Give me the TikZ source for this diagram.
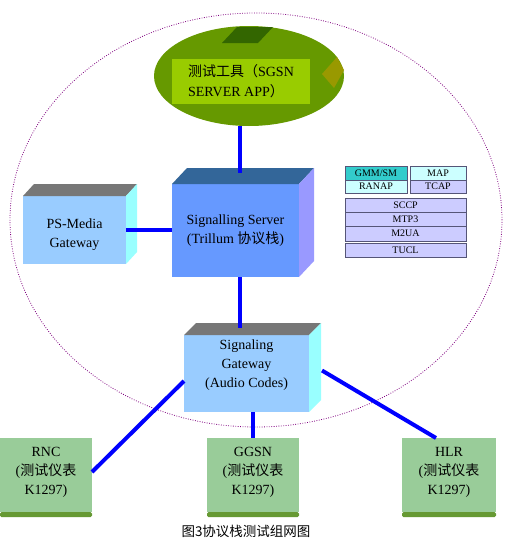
\documentclass[tikz,border=0pt]{standalone}
\usepackage{fontspec}
\setmainfont{Liberation Serif}
\newfontfamily\cjk{Noto Sans CJK SC}
\usetikzlibrary{calc,positioning,shapes.geometric}

\definecolor{linkblue}{HTML}{0000FF}
\definecolor{ringpurple}{HTML}{800080}
\definecolor{toolgreen}{HTML}{669900}
\definecolor{toollight}{HTML}{99CC00}
\definecolor{tooldark}{HTML}{336600}
\definecolor{toololive}{HTML}{999900}
\definecolor{srvfront}{HTML}{6699FF}
\definecolor{srvtop}{HTML}{336699}
\definecolor{srvside}{HTML}{9999FF}
\definecolor{gwfront}{HTML}{99CCFF}
\definecolor{gwtop}{HTML}{777777}
\definecolor{gwside}{HTML}{99FFFF}
\definecolor{kitfill}{HTML}{99CC99}
\definecolor{kitstrip}{HTML}{669933}
\definecolor{stacklav}{HTML}{CCCCFF}
\definecolor{stackcyan}{HTML}{33CCCC}
\definecolor{stackpale}{HTML}{CCFFFF}
\definecolor{stackline}{HTML}{555577}

\tikzset{
  frontface/.style={anchor=north west,inner sep=0pt,outer sep=0pt},
  link/.style={draw=linkblue,line width=4pt},
  lbl/.style={align=center,font=\fontsize{14}{19}\selectfont},
  layerbox/.style={frontface,draw=stackline,line width=0.6pt,fill=stacklav,font=\fontsize{10}{10}\selectfont},
  kitbox/.style={frontface,fill=kitfill,minimum height=74pt}
}

\newcommand\boxfaces[5]{%
  \fill[#4] (#1.north west) -- ++(#2,#3) -- ($(#1.north east)+(#2,#3)$) -- (#1.north east) -- cycle;
  \fill[#5] (#1.north east) -- ++(#2,#3) -- ($(#1.south east)+(#2,#3)$) -- (#1.south east) -- cycle;
}

\begin{document}
\begin{tikzpicture}[x=1pt,y=-1pt]
  \useasboundingbox (0,0) rectangle (508,544);
  \fill[white] (0,0) rectangle (508,544);

  \draw[ringpurple,line width=0.8pt,dash pattern=on 0.8pt off 1.6pt] (256,220) ellipse [x radius=246pt,y radius=207pt];

  \coordinate (spine) at (240,0);

  \node[ellipse,fill=toolgreen,minimum width=190pt,minimum height=100pt,inner sep=0pt] (tool) at (249,76) {};
  \fill[tooldark] (222,43) -- (258,43) -- (273,27) -- (237,27) -- cycle;
  \fill[toololive] (322,74) -- (337,57) -- (344,70) -- (334,88) -- cycle;
  \node[frontface,fill=toollight,minimum width=138pt,minimum height=45pt,align=left,font=\fontsize{14}{20}\selectfont] (toolname) at (172,59)
    {{\cjk 测试工具（}SGSN\\SERVER APP{\cjk ）}};

  \node[frontface,fill=gwfront,minimum width=103pt,minimum height=68pt,
    label={[lbl,yshift=-5pt]center:PS-Media\\Gateway}] (psmg) at (23,196) {};
  \boxfaces{psmg}{11}{-12}{gwtop}{gwside}

  \node[frontface,fill=srvfront,minimum width=127pt,minimum height=93pt,
    label={[lbl]center:Signalling Server\\(Trillum {\cjk 协议栈})}] (server) at (172,184) {};
  \boxfaces{server}{15}{-16}{srvtop}{srvside}

  \node[frontface,fill=gwfront,minimum width=125pt,minimum height=77pt,
    label={[lbl,yshift=8.5pt]center:Signaling\\Gateway\\(Audio Codes)}] (sgw) at (184,335) {};
  \boxfaces{sgw}{12}{-12}{gwtop}{gwside}

  \node[kitbox,minimum width=92pt,label={[lbl,yshift=3pt]center:RNC\\({\cjk 测试仪表}\\K1297)}] (rnc) at (0,438) {};
  \node[kitbox,minimum width=92pt,label={[lbl,yshift=3pt]center:GGSN\\({\cjk 测试仪表}\\K1297)}] (ggsn) at (207,438) {};
  \node[kitbox,minimum width=94pt,label={[lbl,yshift=3pt]center:HLR\\({\cjk 测试仪表}\\K1297)}] (hlr) at (402,438) {};
  \foreach \k in {rnc,ggsn,hlr}
    \fill[kitstrip,rounded corners=1.5pt] (\k.south west) rectangle ($(\k.south east)+(0,5)$);

  \draw[link] (tool.south -| spine) -- ([yshift=11pt]server.north -| spine);
  \draw[link] (psmg.east) -- (psmg.east -| server.west);
  \draw[link] (server.south -| spine) -- ([yshift=7pt]sgw.north -| spine);
  \draw[link] ([yshift=-7.5pt]sgw.west) -- ([yshift=3pt]rnc.east);
  \draw[link] (ggsn.north |- sgw.south) -- (ggsn.north);
  \draw[link] ([xshift=13pt,yshift=3pt]sgw.east) -- ([xshift=-13pt]hlr.north);

  \node[layerbox,fill=stackcyan,minimum width=62pt,minimum height=14pt] (gmm) at (345,166) {GMM/SM};
  \node[layerbox,fill=stackpale,minimum width=62pt,minimum height=13pt] (ranap) at (345,180) {RANAP};
  \node[layerbox,fill=stackpale,minimum width=56pt,minimum height=14pt] (map) at (410,166) {MAP};
  \node[layerbox,minimum width=56pt,minimum height=13pt] (tcap) at (410,180) {TCAP};
  \node[layerbox,minimum width=121pt,minimum height=14pt] (sccp) at (345,198) {SCCP};
  \node[layerbox,minimum width=121pt,minimum height=14pt] (mtp) at (345,212) {MTP3};
  \node[layerbox,minimum width=121pt,minimum height=15pt] (mua) at (345,226) {M2UA};
  \node[layerbox,minimum width=121pt,minimum height=14pt] (tucl) at (345,243) {TUCL};

  \node[font=\cjk\fontsize{13.5}{14}\selectfont] (caption) at (246,531) {图3协议栈测试组网图};
\end{tikzpicture}
\end{document}
